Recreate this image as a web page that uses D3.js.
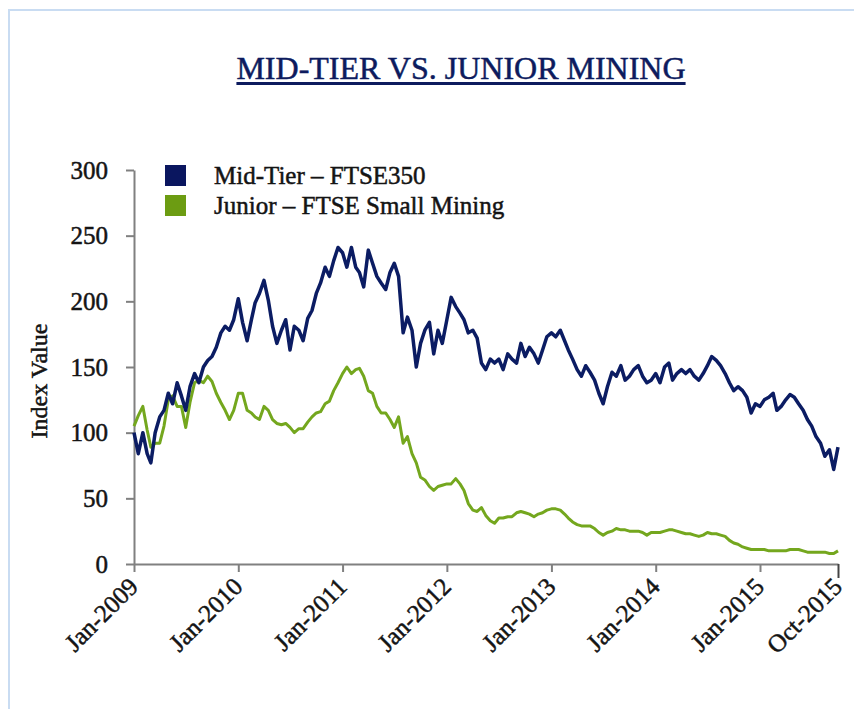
<!DOCTYPE html>
<html>
<head>
<meta charset="utf-8">
<script src="https://cdn.jsdelivr.net/npm/d3@7"></script>
<style>
  body { margin: 0; background: #fff; }
  svg { display: block; font-family: "Liberation Serif", "Times New Roman", serif; }
  .heavy { stroke-width: 0.5px; paint-order: stroke; }
</style>
</head>
<body>
<svg width="854" height="709"></svg>
<script>
// Semi-monthly readings, Jan 2009 -> Oct 2015 (1st and 16th of each month)
const midTier = [
  100, 84, 100, 84, 77, 100, 112, 117, 130, 122, 138, 128, 117, 135, 145, 138, 150, 155, 158, 165,
  176, 181, 178, 186, 202, 184, 170, 186, 199, 206, 216, 201, 181, 168, 178, 186, 163, 181, 178, 170,
  187, 193, 206, 214, 226, 219, 231, 241, 237, 226, 241, 226, 222, 211, 239, 229, 219, 214, 209, 222,
  229, 219, 176, 188, 178, 150, 168, 178, 184, 160, 178, 168, 186, 203, 196, 191, 186, 176, 178, 172,
  153, 148, 156, 153, 156, 148, 160, 156, 153, 168, 158, 165, 160, 153, 163, 173, 176, 173, 178, 170,
  163, 156, 148, 143, 151, 146, 140, 130, 122, 135, 146, 143, 151, 140, 143, 148, 151, 143, 138, 140,
  145, 138, 150, 153, 140, 145, 148, 145, 148, 143, 140, 145, 151, 158, 155, 151, 145, 138, 132, 135,
  132, 127, 115, 122, 120, 125, 127, 130, 117, 120, 125, 129, 127, 122, 117, 110, 105, 97, 92, 82,
  87, 72, 89
];
const junior = [
  105, 113, 120, 102, 89, 92, 92, 105, 125, 128, 120, 120, 104, 123, 138, 140, 138, 143, 139, 130,
  123, 117, 110, 117, 130, 130, 117, 115, 112, 110, 120, 117, 110, 107, 106, 107, 104, 100, 103, 103,
  108, 112, 115, 116, 122, 124, 132, 138, 145, 150, 145, 148, 149, 143, 132, 130, 120, 115, 115, 110,
  104, 112, 92, 97, 84, 77, 66, 64, 59, 56, 59, 60, 61, 61, 65, 61, 56, 46, 41, 40,
  43, 37, 33, 31, 35, 35, 36, 36, 39, 40, 39, 38, 36, 38, 39, 41, 42, 42, 41, 38,
  35, 32, 30, 29, 29, 29, 27, 24, 22, 24, 25, 27, 26, 26, 25, 25, 25, 24, 22, 24,
  24, 24, 25, 26, 26, 25, 24, 23, 23, 22, 21, 22, 24, 23, 23, 22, 21, 18, 16, 15,
  13, 12, 11, 11, 11, 11, 10, 10, 10, 10, 10, 11, 11, 11, 10, 9, 9, 9, 9, 9,
  8, 8, 10
];
const dates = midTier.map((v, i) => new Date(2009, Math.floor(i / 2), i % 2 ? 16 : 1));

const seriesNames = ["Mid-Tier \u2013 FTSE350", "Junior \u2013 FTSE Small Mining"];
const seriesColors = ["#0b1c63", "#74a71e"];
const legendColors = ["#0a165f", "#6c9c12"];
const yTicks = [0, 50, 100, 150, 200, 250, 300];
const xTicks = [
  new Date(2009, 0, 1), new Date(2010, 0, 1), new Date(2011, 0, 1), new Date(2012, 0, 1),
  new Date(2013, 0, 1), new Date(2014, 0, 1), new Date(2015, 0, 1), new Date(2015, 9, 1)
];

const svg = d3.select("svg");
const plotLeft = 134, plotRight = 838, plotTop = 170, plotBottom = 564;
const textColor = "#141414";

// Light blue frame like the slide shape
svg.append("path")
  .attr("d", "M9,709V10H854")
  .attr("fill", "none")
  .attr("stroke", "#c9dcf2")
  .attr("stroke-width", 2);

// Title with underline
const title = svg.append("text")
  .attr("class", "heavy")
  .attr("x", 461)
  .attr("y", 79)
  .attr("text-anchor", "middle")
  .attr("font-size", 32)
  .attr("fill", "#0d1b5e")
  .attr("stroke", "#0d1b5e")
  .text("MID-TIER VS. JUNIOR MINING");
const tb = title.node().getBBox();
svg.append("line")
  .attr("x1", tb.x).attr("x2", tb.x + tb.width)
  .attr("y1", 83.5).attr("y2", 83.5)
  .attr("stroke", "#0d1b5e")
  .attr("stroke-width", 3);

const x = d3.scaleTime()
  .domain([xTicks[0], xTicks[xTicks.length - 1]])
  .range([plotLeft, plotRight]);
const y = d3.scaleLinear()
  .domain([0, 300])
  .range([plotBottom, plotTop]);

// Y axis
const yAxis = svg.append("g")
  .attr("transform", `translate(${plotLeft},0)`)
  .call(d3.axisLeft(y).tickValues(yTicks).tickSize(8).tickSizeOuter(0).tickPadding(18));
yAxis.selectAll("text")
  .attr("class", "heavy")
  .attr("font-size", 25)
  .attr("font-family", "Liberation Serif, serif")
  .attr("fill", textColor)
  .attr("stroke", textColor);

// X axis
const xAxis = svg.append("g")
  .attr("transform", `translate(0,${plotBottom})`)
  .call(d3.axisBottom(x).tickValues(xTicks).tickSize(8).tickSizeOuter(0).tickFormat(d3.timeFormat("%b-%Y")));
xAxis.selectAll("text")
  .attr("class", "heavy")
  .attr("font-size", 25)
  .attr("font-family", "Liberation Serif, serif")
  .attr("fill", textColor)
  .attr("stroke", textColor)
  .attr("text-anchor", "end")
  .attr("x", 0)
  .attr("y", 0)
  .attr("dy", "0.35em")
  .attr("transform", "translate(-1,18) rotate(-45)");

svg.selectAll(".domain, .tick line")
  .attr("stroke", "#808080")
  .attr("stroke-width", 2);

// last tick is a bit longer/darker in the original
xAxis.selectAll(".tick line")
  .filter((d, i) => i === xTicks.length - 1)
  .attr("y2", 14)
  .attr("stroke", "#444");

// Y axis title
svg.append("text")
  .attr("class", "heavy")
  .attr("transform", "translate(47,381) rotate(-90)")
  .attr("text-anchor", "middle")
  .attr("font-size", 24)
  .attr("fill", textColor)
  .attr("stroke", textColor)
  .text("Index Value");

// Lines
const line = d3.line()
  .x((d, i) => x(dates[i]))
  .y(d => y(d));

svg.append("path")
  .datum(junior)
  .attr("fill", "none")
  .attr("stroke", seriesColors[1])
  .attr("stroke-width", 3)
  .attr("stroke-linejoin", "round")
  .attr("d", line);

svg.append("path")
  .datum(midTier)
  .attr("fill", "none")
  .attr("stroke", seriesColors[0])
  .attr("stroke-width", 3.5)
  .attr("stroke-linejoin", "round")
  .attr("d", line);

// Legend
const legend = svg.append("g")
  .selectAll("g")
  .data(seriesNames)
  .join("g")
  .attr("transform", (d, i) => `translate(165,${165 + i * 30})`);
legend.append("rect")
  .attr("width", 21)
  .attr("height", 21)
  .attr("fill", (d, i) => legendColors[i]);
legend.append("text")
  .attr("class", "heavy")
  .attr("x", 49)
  .attr("y", 19)
  .attr("font-size", 25)
  .attr("fill", textColor)
  .attr("stroke", textColor)
  .text(d => d);
</script>
</body>
</html>
